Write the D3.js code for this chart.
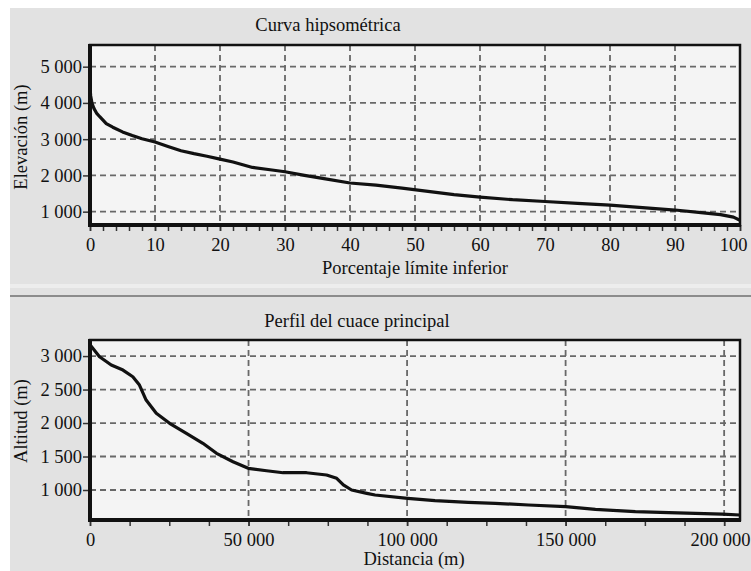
<!DOCTYPE html>
<html lang="es">
<head>
<meta charset="utf-8">
<title>Curva hipsométrica y perfil del cauce</title>
<script src="https://cdn.jsdelivr.net/npm/d3@7"></script>
<style>
  body { margin: 0; background: #fff; }
  .grid line { stroke: #686868; stroke-width: 1.8; stroke-dasharray: 6,4; }
  .axis path { display: none; }
  .axis line { stroke: #333; stroke-width: 1.5; }
  .curve { fill: none; stroke: #111; stroke-width: 3.2; stroke-linejoin: round; }
</style>
</head>
<body>
<svg id="chart" width="751" height="571"></svg>
<script>
// curva hipsometrica: porcentaje limite inferior vs elevacion
var hypPct = [0, 0.1, 0.3, 0.6, 1, 1.5, 2.5, 3.5, 5, 6.5, 8, 10, 12, 14, 16, 18, 20, 22, 25, 28, 30, 33, 36, 40, 44, 48, 52, 56, 60, 65, 70, 75, 80, 85, 90, 94, 97, 99, 100];
var hypElev = [4420, 4200, 4000, 3850, 3720, 3620, 3430, 3330, 3200, 3100, 3010, 2920, 2800, 2680, 2600, 2530, 2450, 2370, 2220, 2150, 2100, 2000, 1910, 1790, 1730, 1650, 1560, 1470, 1400, 1330, 1280, 1230, 1180, 1110, 1045, 975, 920, 850, 760];
var hypXTicks = [0, 10, 20, 30, 40, 50, 60, 70, 80, 90, 100];
var hypYTicks = [1000, 2000, 3000, 4000, 5000];

// perfil del cauce principal: distancia vs altitud
var profDist = [0, 3000, 6700, 10400, 13500, 15600, 17700, 20900, 25100, 30400, 35600, 39900, 45100, 49900, 55700, 60900, 68300, 74600, 77800, 79900, 82500, 87300, 89900, 100200, 108800, 119300, 127800, 138300, 150000, 159400, 172000, 182500, 199400, 205000];
var profAlt = [3170, 2990, 2866, 2791, 2691, 2567, 2343, 2145, 1996, 1846, 1697, 1548, 1422, 1324, 1288, 1258, 1258, 1224, 1174, 1075, 1000, 950, 925, 876, 840, 816, 801, 776, 751, 711, 676, 661, 641, 627];
var profXTicks = [0, 50000, 100000, 150000, 200000];
var profYTicks = [1000, 1500, 2000, 2500, 3000];

var FONT = "'Liberation Serif', 'Times New Roman', serif";
var fmt = d3.formatLocale({decimal: ",", thousands: " ", grouping: [3], currency: ["", ""]}).format(",");

var svg = d3.select("#chart");

// fondo gris de los paneles
svg.append("rect").attr("x", 0).attr("y", 0).attr("width", 751).attr("height", 571).attr("fill", "#fff");
svg.append("rect").attr("x", 10).attr("y", 8).attr("width", 741).attr("height", 276).attr("fill", "#e2e2e2");
svg.append("rect").attr("x", 10).attr("y", 284).attr("width", 741).attr("height", 4).attr("fill", "#ededed");
svg.append("rect").attr("x", 10).attr("y", 288).attr("width", 741).attr("height", 283).attr("fill", "#e2e2e2");
svg.append("rect").attr("x", 10).attr("y", 295).attr("width", 741).attr("height", 2).attr("fill", "#8c8c8c");

function styleText(sel) {
  sel.style("font-family", FONT).style("font-size", "18.5px").attr("fill", "#111");
}

function drawPanel(cfg) {
  var g = svg.append("g");
  var x = d3.scaleLinear().domain(cfg.xDomain).range([cfg.left, cfg.right]);
  var y = d3.scaleLinear().domain(cfg.yDomain).range([cfg.bottom, cfg.top]);

  g.append("rect")
    .attr("x", cfg.left).attr("y", cfg.top)
    .attr("width", cfg.right - cfg.left).attr("height", cfg.bottom - cfg.top)
    .attr("fill", "#f4f4f4");

  // rejilla
  g.append("g").attr("class", "grid")
    .selectAll("line").data(cfg.yTicks).enter().append("line")
    .attr("x1", cfg.left).attr("x2", cfg.right)
    .attr("y1", function(d) { return y(d); }).attr("y2", function(d) { return y(d); });
  g.append("g").attr("class", "grid")
    .selectAll("line").data(cfg.xTicks.filter(function(d) { return d > cfg.xDomain[0]; }))
    .enter().append("line")
    .attr("x1", function(d) { return x(d); }).attr("x2", function(d) { return x(d); })
    .attr("y1", cfg.top).attr("y2", cfg.bottom);

  // ticks menores
  g.append("g").attr("class", "axis")
    .attr("transform", "translate(0," + cfg.bottom + ")")
    .call(d3.axisBottom(x).tickValues(d3.range(cfg.xDomain[0], cfg.xDomain[1] + 1e-9, cfg.minor)).tickSize(6).tickFormat(""));

  var xa = g.append("g").attr("class", "axis")
    .attr("transform", "translate(0," + cfg.bottom + ")")
    .call(d3.axisBottom(x).tickValues(cfg.xTicks).tickSize(6).tickPadding(7).tickFormat(fmt));
  styleText(xa.selectAll("text"));
  // la ultima etiqueta se apoya en el borde derecho
  xa.selectAll("text").filter(function(d) { return d === cfg.xTicks[cfg.xTicks.length - 1]; })
    .attr("text-anchor", "end").attr("x", cfg.lastLabelEnd - x(cfg.xTicks[cfg.xTicks.length - 1]));

  var ya = g.append("g").attr("class", "axis")
    .attr("transform", "translate(" + cfg.left + ",0)")
    .call(d3.axisLeft(y).tickValues(cfg.yTicks).tickSize(7).tickPadding(1).tickFormat(fmt));
  styleText(ya.selectAll("text"));

  // curva
  var clipId = "clip" + cfg.id;
  g.append("clipPath").attr("id", clipId).append("rect")
    .attr("x", cfg.left).attr("y", cfg.top)
    .attr("width", cfg.right - cfg.left).attr("height", cfg.bottom - cfg.top);
  var line = d3.line()
    .x(function(d, i) { return x(cfg.xs[i]); })
    .y(function(d) { return y(d); });
  g.append("path").attr("class", "curve")
    .attr("clip-path", "url(#" + clipId + ")")
    .attr("d", line(cfg.ys));

  // marco
  g.append("rect")
    .attr("x", cfg.left).attr("y", cfg.top)
    .attr("width", cfg.right - cfg.left).attr("height", cfg.bottom - cfg.top)
    .attr("fill", "none").attr("stroke", "#111").attr("stroke-width", 2.5);
  g.append("line").attr("x1", cfg.left).attr("x2", cfg.left)
    .attr("y1", cfg.top - 1).attr("y2", cfg.bottom + 2)
    .attr("stroke", "#111").attr("stroke-width", 4);
  g.append("line").attr("x1", cfg.left - 2).attr("x2", cfg.right + 1)
    .attr("y1", cfg.bottom).attr("y2", cfg.bottom)
    .attr("stroke", "#111").attr("stroke-width", 4);

  // textos
  styleText(g.append("text").attr("x", cfg.titleX).attr("y", cfg.titleY)
    .attr("text-anchor", "middle").text(cfg.title));
  styleText(g.append("text").attr("x", cfg.xLabelX).attr("y", cfg.xLabelY)
    .attr("text-anchor", "middle").text(cfg.xLabel));
  styleText(g.append("text")
    .attr("transform", "translate(27," + cfg.yLabelY + ")rotate(-90)")
    .attr("text-anchor", "middle").text(cfg.yLabel));
}

drawPanel({
  id: 1, left: 90, right: 740, top: 45, bottom: 225,
  xDomain: [0, 100], yDomain: [632, 5598], minor: 2,
  xTicks: hypXTicks, yTicks: hypYTicks, xs: hypPct, ys: hypElev, lastLabelEnd: 747,
  title: "Curva hipsométrica", titleX: 328, titleY: 31,
  xLabel: "Porcentaje límite inferior", xLabelX: 415, xLabelY: 274,
  yLabel: "Elevación (m)", yLabelY: 137
});

drawPanel({
  id: 2, left: 90, right: 740, top: 340, bottom: 520,
  xDomain: [0, 205000], yDomain: [552, 3240], minor: 12500,
  xTicks: profXTicks, yTicks: profYTicks, xs: profDist, ys: profAlt, lastLabelEnd: 750,
  title: "Perfil del cuace principal", titleX: 357, titleY: 327,
  xLabel: "Distancia (m)", xLabelX: 414, xLabelY: 565,
  yLabel: "Altitud (m)", yLabelY: 421
});
</script>
</body>
</html>
